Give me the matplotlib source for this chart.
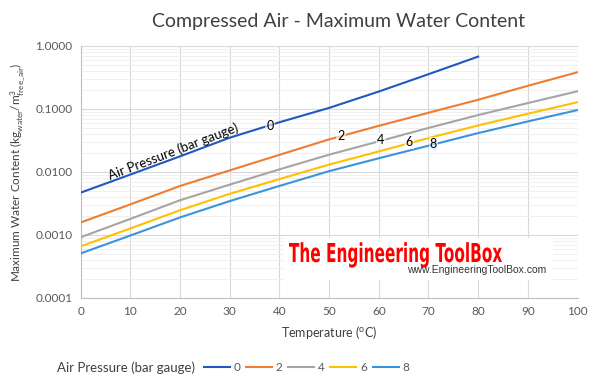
import matplotlib.pyplot as plt
from matplotlib.patches import Rectangle, PathPatch
from matplotlib.textpath import TextPath
from matplotlib.font_manager import FontProperties
from matplotlib.transforms import Affine2D

plt.rcParams['font.family'] = ['Lato', 'DejaVu Sans']

# temperatures (C)
temps = [0, 10, 20, 30, 40, 50, 60, 70, 80, 90, 100]

# max water content (kg water / m3 free air)
p0 = [0.0047, 0.0091, 0.0177, 0.0350, 0.0615, 0.104, 0.189, 0.356, 0.678]
p2 = [0.00158, 0.00306, 0.0060, 0.0106, 0.0187, 0.0329, 0.054, 0.087, 0.140, 0.233, 0.383]
p4 = [0.00092, 0.0018, 0.00356, 0.0063, 0.0110, 0.0188, 0.0306, 0.050, 0.080, 0.124, 0.191]
p6 = [0.00066, 0.00127, 0.00247, 0.0045, 0.0077, 0.0131, 0.0212, 0.0345, 0.0548, 0.084, 0.128]
p8 = [0.00051, 0.00098, 0.0019, 0.00345, 0.0060, 0.0103, 0.0165, 0.0261, 0.0414, 0.0634, 0.096]

pressures = ['0', '2', '4', '6', '8']
series = [p0, p2, p4, p6, p8]
colors = ['#2058C0', '#ED7D31', '#A5A5A5', '#FFC000', '#3A94DB']

# inline label positions (temperature, value)
label_pos = [(38.1, 0.0528), (52.4, 0.0377), (60.4, 0.0326), (66.1, 0.0299), (71.0, 0.0274)]

W, H = 600, 383
fig = plt.figure(figsize=(6, 3.83), dpi=100)
ax = fig.add_axes([0.1345, 0.222, 0.828, 0.658])

handles = []
for name, vals, c in zip(pressures, series, colors):
    line, = ax.plot(temps[:len(vals)], vals, color=c, lw=1.5, zorder=3)
    handles.append(line)

for name, (tx, ty) in zip(pressures, label_pos):
    ax.text(tx, ty, name, fontsize=9, ha='center', va='center', zorder=4,
            bbox=dict(boxstyle='square,pad=0.1', fc='white', ec='none', alpha=0.6))

ax.text(18.6, 0.0213, 'Air Pressure (bar gauge)', fontsize=9.5, rotation=20.8,
        rotation_mode='anchor', ha='center', va='center', zorder=4)

ax.set_yscale('log')
ax.set_ylim(0.0001, 1)
ax.set_xlim(0, 100)
ax.set_xticks(range(0, 101, 10))
ax.set_yticks([0.0001, 0.001, 0.01, 0.1, 1])
ax.set_yticklabels(['0.0001', '0.0010', '0.0100', '0.1000', '1.0000'])
ax.tick_params(axis='both', length=0, labelsize=8.5, colors='#595959', pad=6)
ax.tick_params(axis='y', which='minor', length=0)
ax.grid(True, which='major', color='#D9D9D9', lw=0.8)
ax.grid(True, which='minor', axis='y', color='#EEEEEE', lw=0.6)
ax.set_axisbelow(True)
for s in ['top', 'right']:
    ax.spines[s].set_visible(False)
for s in ['left', 'bottom']:
    ax.spines[s].set_color('#BFBFBF')

ax.set_xlabel(r'Temperature ($^{\mathregular{o}}$C)', fontsize=9, color='#404040', labelpad=5)
ax.set_ylabel(r'Maximum Water Content (kg$_{\mathregular{water}}$/m$^{\mathregular{3}}_{\mathregular{free\_air}}$)',
              fontsize=8.5, color='#404040', labelpad=6)
fig.text(0.565, 0.945, 'Compressed Air - Maximum Water Content', fontsize=14,
         color='#404040', ha='center', va='center')

# legend along the bottom
fig.text(57 / W, 0.041, 'Air Pressure (bar gauge)', fontsize=9.5, color='#404040', va='center')
fig.legend(handles, pressures, loc='center left', bbox_to_anchor=(0.322, 0.041), ncol=5,
           frameon=False, fontsize=8.5, handlelength=2.2, handletextpad=0.3, columnspacing=0.5,
           labelcolor='#595959')

# watermark: white box + condensed red text
fig.add_artist(Rectangle((284 / W, 1 - 280 / H), 269 / W, 42 / H,
                         transform=fig.transFigure, fc='white', ec='none', zorder=5))
bold = FontProperties(family='DejaVu Sans', weight='bold')
tp = TextPath((0, 0), 'The Engineering ToolBox', size=10, prop=bold)
ext = tp.get_extents()
cap = TextPath((0, 0), 'T', size=10, prop=bold).get_extents()
sx = 213 / ext.width / W
sy = 19 / cap.height / H
tr = Affine2D().translate(-ext.x0, 0).scale(sx, sy).translate(289 / W, 1 - 262 / H) + fig.transFigure
fig.add_artist(PathPatch(tp, transform=tr, fc='#FF0000', ec='none', zorder=6))
fig.text(407 / W, 1 - 270 / H, 'www.EngineeringToolBox.com', fontsize=7.5, color='#333333',
         family=['Liberation Sans', 'DejaVu Sans'], va='center', zorder=6)

fig.savefig('out.png', dpi=100)
